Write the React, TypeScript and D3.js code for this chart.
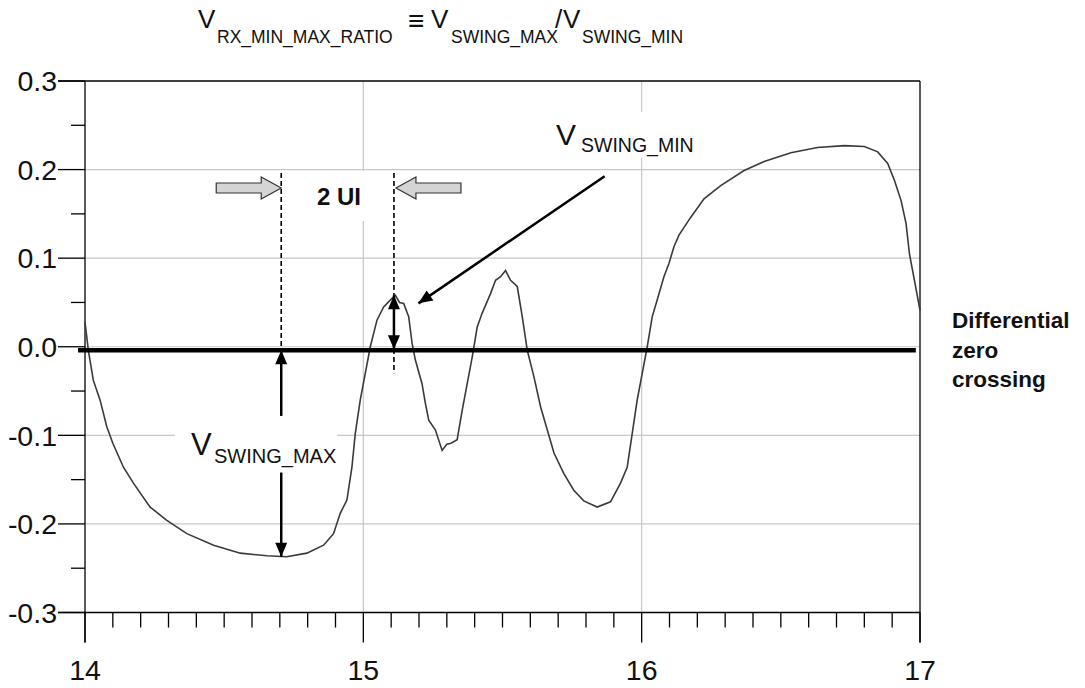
import { useEffect } from "react";
import { scaleLinear, line, range } from "d3";

// waveform: [time, volts]
const WAVE: [number, number][] = [
  [14.0, 0.028], [14.012, -0.004], [14.03, -0.038], [14.054, -0.06], [14.078, -0.09],
  [14.1, -0.109], [14.138, -0.136], [14.174, -0.154], [14.234, -0.181], [14.294, -0.196],
  [14.366, -0.211], [14.462, -0.224], [14.558, -0.233], [14.654, -0.236], [14.725, -0.237],
  [14.797, -0.233], [14.857, -0.224], [14.893, -0.211], [14.917, -0.188], [14.941, -0.173],
  [14.959, -0.136], [14.971, -0.098], [14.989, -0.06], [15.007, -0.03], [15.025, 0.0],
  [15.049, 0.03], [15.073, 0.045], [15.095, 0.052], [15.115, 0.058], [15.13, 0.05],
  [15.145, 0.049], [15.163, 0.034], [15.175, 0.004], [15.187, -0.015], [15.211, -0.042],
  [15.223, -0.064], [15.235, -0.083], [15.259, -0.094], [15.283, -0.117], [15.3, -0.11],
  [15.315, -0.109], [15.337, -0.105], [15.355, -0.072], [15.373, -0.042], [15.391, -0.012],
  [15.409, 0.022], [15.427, 0.038], [15.457, 0.06], [15.475, 0.075], [15.493, 0.079],
  [15.511, 0.086], [15.529, 0.075], [15.553, 0.068], [15.571, 0.034], [15.589, -0.004],
  [15.613, -0.034], [15.637, -0.068], [15.661, -0.094], [15.685, -0.12], [15.72, -0.143],
  [15.756, -0.162], [15.792, -0.174], [15.84, -0.181], [15.888, -0.175], [15.924, -0.154],
  [15.948, -0.136], [15.966, -0.098], [15.984, -0.06], [16.002, -0.03], [16.02, 0.0],
  [16.038, 0.034], [16.056, 0.053], [16.08, 0.079], [16.098, 0.094], [16.116, 0.113],
  [16.134, 0.126], [16.176, 0.146], [16.224, 0.167], [16.284, 0.182], [16.368, 0.199],
  [16.44, 0.209], [16.536, 0.219], [16.632, 0.225], [16.728, 0.227], [16.8, 0.226],
  [16.848, 0.22], [16.884, 0.207], [16.908, 0.188], [16.932, 0.165], [16.95, 0.139],
  [16.962, 0.105], [16.98, 0.075], [17.0, 0.041],
];

const X_TICKS = [14, 15, 16, 17];
const Y_TICKS = [0.3, 0.2, 0.1, 0.0, -0.1, -0.2, -0.3];
const Y_LABELS = ["0.3", "0.2", "0.1", "0.0", "-0.1", "-0.2", "-0.3"];

// annotation anchors (data coords)
const ZERO_LEVEL = -0.004;
const UI_LEFT = 14.705;
const UI_RIGHT = 15.11;
const SWING_MIN_PEAK = 0.058;
const SWING_MAX_LOW = -0.237;

const W = 1085;
const H = 688;
const FONT = "'Liberation Sans', Arial, Helvetica, sans-serif";

const x = scaleLinear().domain([14, 17]).range([85, 920]);
const y = scaleLinear().domain([-0.3, 0.3]).range([612.5, 81]);

// filled arrow head at (x2,y2) pointing from (x1,y1)
const head = (x1: number, y1: number, x2: number, y2: number, len = 14, wid = 6) => {
  const a = Math.atan2(y2 - y1, x2 - x1);
  const bx = x2 - len * Math.cos(a);
  const by = y2 - len * Math.sin(a);
  const px = wid * Math.sin(a);
  const py = -wid * Math.cos(a);
  return `${x2},${y2} ${bx + px},${by + py} ${bx - px},${by - py}`;
};

const Arrow = ({ x1, y1, x2, y2, both = false }: any) => (
  <g>
    <line x1={x1} y1={y1} x2={x2} y2={y2} stroke="#000" strokeWidth={2.5} />
    <polygon points={head(x1, y1, x2, y2)} fill="#000" />
    {both && <polygon points={head(x2, y2, x1, y1)} fill="#000" />}
  </g>
);

// gray block arrow, tip at tx, pointing dir (+1 right, -1 left)
const BlockArrow = ({ tx, cy, dir }: any) => {
  const bodyLen = 45;
  const headLen = 20;
  const s = -dir;
  const pts = [
    [tx, cy],
    [tx + s * headLen, cy - 11],
    [tx + s * headLen, cy - 5],
    [tx + s * (headLen + bodyLen), cy - 5],
    [tx + s * (headLen + bodyLen), cy + 5],
    [tx + s * headLen, cy + 5],
    [tx + s * headLen, cy + 11],
  ];
  return <polygon points={pts.map((p) => p.join(",")).join(" ")} fill="#d4d4d4" stroke="#333" strokeWidth={1.2} />;
};

export default function App() {
  useEffect(() => {
    document.body.style.margin = "0";
  }, []);

  const path = line<[number, number]>()
    .x((d) => x(d[0]))
    .y((d) => y(d[1]))(WAVE);

  const minorX = range(140, 171).map((d) => d / 10).filter((d) => !X_TICKS.includes(d));
  const minorY = range(-25, 30, 10).map((d) => d / 100);
  const y0 = y(ZERO_LEVEL);

  return (
    <svg width={W} height={H} style={{ display: "block", background: "#fff" }} fontFamily={FONT}>
      {/* grid */}
      <g stroke="#c8c8c8" strokeWidth={1.2}>
        {[0.2, 0.1, 0, -0.1, -0.2].map((v) => (
          <line key={v} x1={x(14)} x2={x(17)} y1={y(v)} y2={y(v)} />
        ))}
        {[15, 16].map((v) => (
          <line key={v} x1={x(v)} x2={x(v)} y1={y(0.3)} y2={y(-0.3)} />
        ))}
      </g>

      {/* label backgrounds breaking the grid */}
      <rect x={290} y={171} width={95} height={50} fill="#fff" />
      <rect x={175} y={417} width={162} height={53} fill="#fff" />
      <rect x={550} y={112} width={150} height={46} fill="#fff" />

      {/* frame and ticks */}
      <g stroke="#000" strokeWidth={1.3}>
        <line x1={x(14)} x2={x(14)} y1={y(0.3)} y2={y(-0.3) + 30} />
        <line x1={x(17)} x2={x(17)} y1={y(0.3)} y2={y(-0.3) + 30} />
        <line x1={58} x2={x(17)} y1={y(0.3)} y2={y(0.3)} />
        <line x1={58} x2={x(17)} y1={y(-0.3)} y2={y(-0.3)} />
        {Y_TICKS.map((v) => (
          <line key={v} x1={58} x2={x(14)} y1={y(v)} y2={y(v)} />
        ))}
        {minorY.map((v) => (
          <line key={v} x1={71} x2={x(14)} y1={y(v)} y2={y(v)} />
        ))}
        {X_TICKS.map((v) => (
          <line key={v} x1={x(v)} x2={x(v)} y1={y(-0.3)} y2={y(-0.3) + 30} />
        ))}
        {minorX.map((v) => (
          <line key={v} x1={x(v)} x2={x(v)} y1={y(-0.3)} y2={y(-0.3) + 15} />
        ))}
      </g>

      {/* tick labels */}
      <g fontSize={28.5} fill="#111">
        {Y_TICKS.map((v, i) => (
          <text key={v} x={57} y={y(v)} dy="0.36em" textAnchor="end">
            {Y_LABELS[i]}
          </text>
        ))}
        {X_TICKS.map((v) => (
          <text key={v} x={x(v)} y={680} textAnchor="middle">
            {v}
          </text>
        ))}
      </g>

      {/* dashed UI markers */}
      <g stroke="#000" strokeWidth={1.6} strokeDasharray="5 3">
        <line x1={x(UI_LEFT)} x2={x(UI_LEFT)} y1={173} y2={y(-0.078)} />
        <line x1={x(UI_RIGHT)} x2={x(UI_RIGHT)} y1={173} y2={y(-0.03)} />
      </g>

      {/* waveform */}
      <path d={path ?? ""} fill="none" stroke="#3a3a3a" strokeWidth={1.6} />

      {/* differential zero crossing line */}
      <line x1={x(13.975)} x2={x(16.985)} y1={y0} y2={y0} stroke="#000" strokeWidth={4.5} />

      {/* swing arrows */}
      <Arrow x1={x(UI_LEFT)} y1={y(-0.078)} x2={x(UI_LEFT)} y2={y0} />
      <Arrow x1={x(UI_LEFT)} y1={y(-0.142)} x2={x(UI_LEFT)} y2={y(SWING_MAX_LOW)} />
      <Arrow x1={x(UI_RIGHT)} y1={y(SWING_MIN_PEAK)} x2={x(UI_RIGHT)} y2={y0 - 1} both />
      <Arrow x1={x(15.867)} y1={y(0.1925)} x2={x(15.198)} y2={y(0.049)} />

      <BlockArrow tx={x(UI_LEFT)} cy={188} dir={1} />
      <BlockArrow tx={x(UI_RIGHT) + 2} cy={188} dir={-1} />

      {/* labels */}
      <text x={339} y={205} fontSize={24} fontWeight="bold" textAnchor="middle" fill="#111">
        2 UI
      </text>

      <g fill="#111">
        <text x={191} y={455} fontSize={31}>V</text>
        <text x={214} y={463} fontSize={20}>SWING_MAX</text>
        <text x={556} y={145} fontSize={30}>V</text>
        <text x={581} y={152} fontSize={19.5}>SWING_MIN</text>
      </g>

      <g fontSize={22.5} fontWeight="bold" fill="#111">
        <text x={952} y={328}>Differential</text>
        <text x={952} y={358}>zero</text>
        <text x={952} y={387}>crossing</text>
      </g>

      {/* title */}
      <g fill="#111">
        <text x={198} y={28} fontSize={26}>V</text>
        <text x={217} y={43} fontSize={17.5}>RX_MIN_MAX_RATIO</text>
        <text x={408} y={30} fontSize={28}>≡</text>
        <text x={431} y={28} fontSize={26}>V</text>
        <text x={451} y={43} fontSize={17.5}>SWING_MAX</text>
        <text x={555} y={28} fontSize={26}>/</text>
        <text x={563} y={28} fontSize={26}>V</text>
        <text x={582} y={43} fontSize={17.5}>SWING_MIN</text>
      </g>
    </svg>
  );
}
